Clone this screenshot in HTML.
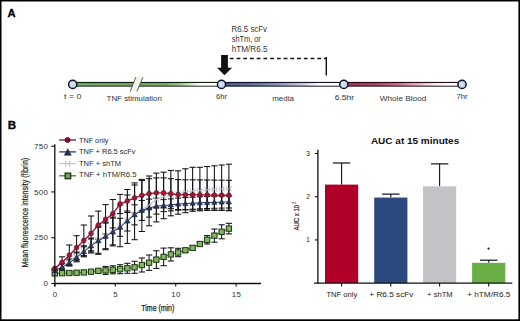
<!DOCTYPE html>
<html><head><meta charset="utf-8"><style>
html,body{margin:0;padding:0;background:#fff;}
body{width:520px;height:321px;overflow:hidden;position:relative;}
svg{position:absolute;left:0;top:0;}
text{font-family:"Liberation Sans", sans-serif;}
</style></head><body>
<svg width="520" height="321" viewBox="0 0 520 321">
<defs>
<linearGradient id="gG" x1="73" x2="221" gradientUnits="userSpaceOnUse">
 <stop offset="0" stop-color="#5a9648"/><stop offset="0.62" stop-color="#5e9a4a"/><stop offset="0.72" stop-color="#8cba78"/><stop offset="0.8" stop-color="#cfe3c4"/><stop offset="0.86" stop-color="#ffffff"/><stop offset="1" stop-color="#ffffff"/></linearGradient>
<linearGradient id="gB" x1="222" x2="344" gradientUnits="userSpaceOnUse">
 <stop offset="0" stop-color="#2c3870"/><stop offset="0.23" stop-color="#46558a"/><stop offset="0.475" stop-color="#8088a8"/><stop offset="0.68" stop-color="#c4c8d8"/><stop offset="0.8" stop-color="#ffffff"/><stop offset="1" stop-color="#ffffff"/></linearGradient>
<linearGradient id="gR" x1="344" x2="462" gradientUnits="userSpaceOnUse">
 <stop offset="0" stop-color="#8e1436"/><stop offset="0.25" stop-color="#a41c44"/><stop offset="0.45" stop-color="#c25474"/><stop offset="0.6" stop-color="#dc98ac"/><stop offset="0.78" stop-color="#f6e8ec"/><stop offset="0.88" stop-color="#ffffff"/><stop offset="1" stop-color="#ffffff"/></linearGradient>
<radialGradient id="gC" cx="0.45" cy="0.45" r="0.6">
 <stop offset="0" stop-color="#dbe7f6"/><stop offset="1" stop-color="#b4c9e6"/></radialGradient>
<linearGradient id="gH" x1="0" y1="0" x2="0" y2="1">
 <stop offset="0" stop-color="#fff" stop-opacity="0"/><stop offset="0.5" stop-color="#fff" stop-opacity="0.22"/><stop offset="1" stop-color="#fff" stop-opacity="0"/></linearGradient>
</defs>
<rect x="0" y="0" width="520" height="1.5" fill="#000"/>
<rect x="0" y="0" width="1.5" height="321" fill="#000"/>
<rect x="518.4" y="0" width="1.6" height="321" fill="#000"/>
<rect x="0" y="319.3" width="520" height="1.7" fill="#000"/>
<text x="7.6" y="17.1" font-size="11.2" font-weight="bold" fill="#000" stroke="#000" stroke-width="0.3">A</text>
<text x="7.8" y="129.1" font-size="11.6" font-weight="bold" fill="#000" stroke="#000" stroke-width="0.3">B</text>
<rect x="73" y="82.6" width="149" height="3.4" fill="url(#gG)"/>
<rect x="73" y="82.9" width="149" height="2.8" fill="url(#gH)"/>
<rect x="73" y="81.9" width="149" height="1.1" fill="#10240c"/>
<rect x="73" y="85.7" width="149" height="1.0" fill="#263020"/>
<rect x="222" y="82.6" width="122" height="3.4" fill="url(#gB)"/>
<rect x="222" y="82.9" width="122" height="2.8" fill="url(#gH)"/>
<rect x="222" y="81.9" width="122" height="1.1" fill="#10122a"/>
<rect x="222" y="85.7" width="122" height="1.0" fill="#181a2e"/>
<rect x="344" y="82.6" width="118" height="3.4" fill="url(#gR)"/>
<rect x="344" y="82.9" width="118" height="2.8" fill="url(#gH)"/>
<rect x="344" y="81.9" width="118" height="1.1" fill="#280a12"/>
<rect x="344" y="85.7" width="118" height="1.0" fill="#2a181c"/>
<polygon points="135.8,77.2 142.9,77.2 137,91.4 130.2,91.4" fill="#eef7e6"/>
<line x1="135.8" y1="77.2" x2="130.2" y2="91.4" stroke="#4a4a4a" stroke-width="0.9"/>
<line x1="142.9" y1="77.2" x2="137" y2="91.4" stroke="#4a4a4a" stroke-width="0.9"/>
<circle cx="72.7" cy="84.4" r="4.1" fill="url(#gC)" stroke="#111122" stroke-width="1.45"/>
<circle cx="221.5" cy="84.4" r="4.1" fill="url(#gC)" stroke="#111122" stroke-width="1.45"/>
<circle cx="343.8" cy="84.4" r="4.1" fill="url(#gC)" stroke="#111122" stroke-width="1.45"/>
<circle cx="462" cy="84.4" r="4.1" fill="url(#gC)" stroke="#111122" stroke-width="1.45"/>
<polygon points="221.1,55 227.9,55 227.9,67.8 232.1,67.8 224.5,75.3 217,67.8 221.1,67.8" fill="#111"/>
<line x1="229.8" y1="58.5" x2="326.5" y2="58.5" stroke="#111" stroke-width="1.3" stroke-dasharray="3.8 2.93"/>
<line x1="326.3" y1="57" x2="326.3" y2="75.5" stroke="#111" stroke-width="1.4"/>
<text x="231.6" y="31.6" font-size="8.2" font-weight="normal" fill="#333" textLength="35.4" lengthAdjust="spacingAndGlyphs" >R6.5 scFv</text>
<text x="231.8" y="41.6" font-size="8.2" font-weight="normal" fill="#333" textLength="29.0" lengthAdjust="spacingAndGlyphs" >shTm, or</text>
<text x="231.8" y="51.8" font-size="8.2" font-weight="normal" fill="#333" textLength="35.8" lengthAdjust="spacingAndGlyphs" >hTM/R6.5</text>
<text x="64.0" y="99.4" font-size="8.0" font-weight="normal" fill="#333" textLength="17.4" lengthAdjust="spacingAndGlyphs" >t = 0</text>
<text x="106.6" y="100.6" font-size="7.8" font-weight="normal" fill="#333" textLength="55.3" lengthAdjust="spacingAndGlyphs" >TNF stimulation</text>
<text x="216.1" y="99.0" font-size="8.0" font-weight="normal" fill="#333" textLength="11.0" lengthAdjust="spacingAndGlyphs" >6hr</text>
<text x="272.2" y="100.9" font-size="8.0" font-weight="normal" fill="#333" textLength="21.8" lengthAdjust="spacingAndGlyphs" >media</text>
<text x="334.7" y="99.5" font-size="8.0" font-weight="normal" fill="#333" textLength="19.5" lengthAdjust="spacingAndGlyphs" >6.5hr</text>
<text x="379.7" y="100.9" font-size="7.8" font-weight="normal" fill="#333" textLength="46.6" lengthAdjust="spacingAndGlyphs" >Whole Blood</text>
<text x="456.5" y="99.0" font-size="8.0" font-weight="normal" fill="#333" textLength="11.2" lengthAdjust="spacingAndGlyphs" >7hr</text>
<line x1="54.80" x2="54.80" y1="269.50" y2="269.50" stroke="#111" stroke-width="1.05"/>
<line x1="51.70" x2="57.90" y1="269.50" y2="269.50" stroke="#111" stroke-width="1.05"/>
<line x1="51.70" x2="57.90" y1="269.50" y2="269.50" stroke="#111" stroke-width="1.05"/>
<line x1="62.05" x2="62.05" y1="263.40" y2="269.40" stroke="#111" stroke-width="1.05"/>
<line x1="58.95" x2="65.15" y1="263.40" y2="263.40" stroke="#111" stroke-width="1.05"/>
<line x1="58.95" x2="65.15" y1="269.40" y2="269.40" stroke="#111" stroke-width="1.05"/>
<line x1="69.31" x2="69.31" y1="259.00" y2="265.00" stroke="#111" stroke-width="1.05"/>
<line x1="66.21" x2="72.41" y1="259.00" y2="259.00" stroke="#111" stroke-width="1.05"/>
<line x1="66.21" x2="72.41" y1="265.00" y2="265.00" stroke="#111" stroke-width="1.05"/>
<line x1="76.56" x2="76.56" y1="252.00" y2="260.80" stroke="#111" stroke-width="1.05"/>
<line x1="73.46" x2="79.66" y1="252.00" y2="252.00" stroke="#111" stroke-width="1.05"/>
<line x1="73.46" x2="79.66" y1="260.80" y2="260.80" stroke="#111" stroke-width="1.05"/>
<line x1="83.82" x2="83.82" y1="245.80" y2="255.80" stroke="#111" stroke-width="1.05"/>
<line x1="80.72" x2="86.92" y1="245.80" y2="245.80" stroke="#111" stroke-width="1.05"/>
<line x1="80.72" x2="86.92" y1="255.80" y2="255.80" stroke="#111" stroke-width="1.05"/>
<line x1="91.07" x2="91.07" y1="238.00" y2="252.00" stroke="#111" stroke-width="1.05"/>
<line x1="87.97" x2="94.17" y1="238.00" y2="238.00" stroke="#111" stroke-width="1.05"/>
<line x1="87.97" x2="94.17" y1="252.00" y2="252.00" stroke="#111" stroke-width="1.05"/>
<line x1="98.32" x2="98.32" y1="226.30" y2="253.30" stroke="#111" stroke-width="1.05"/>
<line x1="95.22" x2="101.42" y1="226.30" y2="226.30" stroke="#111" stroke-width="1.05"/>
<line x1="95.22" x2="101.42" y1="253.30" y2="253.30" stroke="#111" stroke-width="1.05"/>
<line x1="105.58" x2="105.58" y1="222.10" y2="248.70" stroke="#111" stroke-width="1.05"/>
<line x1="102.48" x2="108.68" y1="222.10" y2="222.10" stroke="#111" stroke-width="1.05"/>
<line x1="102.48" x2="108.68" y1="248.70" y2="248.70" stroke="#111" stroke-width="1.05"/>
<line x1="112.83" x2="112.83" y1="217.10" y2="244.90" stroke="#111" stroke-width="1.05"/>
<line x1="109.73" x2="115.93" y1="217.10" y2="217.10" stroke="#111" stroke-width="1.05"/>
<line x1="109.73" x2="115.93" y1="244.90" y2="244.90" stroke="#111" stroke-width="1.05"/>
<line x1="120.09" x2="120.09" y1="205.00" y2="246.70" stroke="#111" stroke-width="1.05"/>
<line x1="116.99" x2="123.19" y1="205.00" y2="205.00" stroke="#111" stroke-width="1.05"/>
<line x1="116.99" x2="123.19" y1="246.70" y2="246.70" stroke="#111" stroke-width="1.05"/>
<line x1="127.34" x2="127.34" y1="195.00" y2="243.40" stroke="#111" stroke-width="1.05"/>
<line x1="124.24" x2="130.44" y1="195.00" y2="195.00" stroke="#111" stroke-width="1.05"/>
<line x1="124.24" x2="130.44" y1="243.40" y2="243.40" stroke="#111" stroke-width="1.05"/>
<line x1="134.59" x2="134.59" y1="185.00" y2="239.70" stroke="#111" stroke-width="1.05"/>
<line x1="131.49" x2="137.69" y1="185.00" y2="185.00" stroke="#111" stroke-width="1.05"/>
<line x1="131.49" x2="137.69" y1="239.70" y2="239.70" stroke="#111" stroke-width="1.05"/>
<line x1="141.85" x2="141.85" y1="179.40" y2="231.50" stroke="#111" stroke-width="1.05"/>
<line x1="138.75" x2="144.95" y1="179.40" y2="179.40" stroke="#111" stroke-width="1.05"/>
<line x1="138.75" x2="144.95" y1="231.50" y2="231.50" stroke="#111" stroke-width="1.05"/>
<line x1="149.10" x2="149.10" y1="176.00" y2="225.80" stroke="#111" stroke-width="1.05"/>
<line x1="146.00" x2="152.20" y1="176.00" y2="176.00" stroke="#111" stroke-width="1.05"/>
<line x1="146.00" x2="152.20" y1="225.80" y2="225.80" stroke="#111" stroke-width="1.05"/>
<line x1="156.36" x2="156.36" y1="173.10" y2="221.90" stroke="#111" stroke-width="1.05"/>
<line x1="153.26" x2="159.46" y1="173.10" y2="173.10" stroke="#111" stroke-width="1.05"/>
<line x1="153.26" x2="159.46" y1="221.90" y2="221.90" stroke="#111" stroke-width="1.05"/>
<line x1="163.61" x2="163.61" y1="172.20" y2="218.70" stroke="#111" stroke-width="1.05"/>
<line x1="160.51" x2="166.71" y1="172.20" y2="172.20" stroke="#111" stroke-width="1.05"/>
<line x1="160.51" x2="166.71" y1="218.70" y2="218.70" stroke="#111" stroke-width="1.05"/>
<line x1="170.86" x2="170.86" y1="170.40" y2="215.80" stroke="#111" stroke-width="1.05"/>
<line x1="167.76" x2="173.96" y1="170.40" y2="170.40" stroke="#111" stroke-width="1.05"/>
<line x1="167.76" x2="173.96" y1="215.80" y2="215.80" stroke="#111" stroke-width="1.05"/>
<line x1="178.12" x2="178.12" y1="170.80" y2="214.20" stroke="#111" stroke-width="1.05"/>
<line x1="175.02" x2="181.22" y1="170.80" y2="170.80" stroke="#111" stroke-width="1.05"/>
<line x1="175.02" x2="181.22" y1="214.20" y2="214.20" stroke="#111" stroke-width="1.05"/>
<line x1="185.37" x2="185.37" y1="168.80" y2="212.70" stroke="#111" stroke-width="1.05"/>
<line x1="182.27" x2="188.47" y1="168.80" y2="168.80" stroke="#111" stroke-width="1.05"/>
<line x1="182.27" x2="188.47" y1="212.70" y2="212.70" stroke="#111" stroke-width="1.05"/>
<line x1="192.63" x2="192.63" y1="167.30" y2="211.30" stroke="#111" stroke-width="1.05"/>
<line x1="189.53" x2="195.73" y1="167.30" y2="167.30" stroke="#111" stroke-width="1.05"/>
<line x1="189.53" x2="195.73" y1="211.30" y2="211.30" stroke="#111" stroke-width="1.05"/>
<line x1="199.88" x2="199.88" y1="167.30" y2="210.80" stroke="#111" stroke-width="1.05"/>
<line x1="196.78" x2="202.98" y1="167.30" y2="167.30" stroke="#111" stroke-width="1.05"/>
<line x1="196.78" x2="202.98" y1="210.80" y2="210.80" stroke="#111" stroke-width="1.05"/>
<line x1="207.13" x2="207.13" y1="166.50" y2="210.40" stroke="#111" stroke-width="1.05"/>
<line x1="204.03" x2="210.23" y1="166.50" y2="166.50" stroke="#111" stroke-width="1.05"/>
<line x1="204.03" x2="210.23" y1="210.40" y2="210.40" stroke="#111" stroke-width="1.05"/>
<line x1="214.39" x2="214.39" y1="165.80" y2="210.40" stroke="#111" stroke-width="1.05"/>
<line x1="211.29" x2="217.49" y1="165.80" y2="165.80" stroke="#111" stroke-width="1.05"/>
<line x1="211.29" x2="217.49" y1="210.40" y2="210.40" stroke="#111" stroke-width="1.05"/>
<line x1="221.64" x2="221.64" y1="165.00" y2="210.40" stroke="#111" stroke-width="1.05"/>
<line x1="218.54" x2="224.74" y1="165.00" y2="165.00" stroke="#111" stroke-width="1.05"/>
<line x1="218.54" x2="224.74" y1="210.40" y2="210.40" stroke="#111" stroke-width="1.05"/>
<line x1="228.90" x2="228.90" y1="164.20" y2="210.80" stroke="#111" stroke-width="1.05"/>
<line x1="225.80" x2="232.00" y1="164.20" y2="164.20" stroke="#111" stroke-width="1.05"/>
<line x1="225.80" x2="232.00" y1="210.80" y2="210.80" stroke="#111" stroke-width="1.05"/>
<line x1="54.80" x2="54.80" y1="268.40" y2="268.40" stroke="#111" stroke-width="1.05"/>
<line x1="51.70" x2="57.90" y1="268.40" y2="268.40" stroke="#111" stroke-width="1.05"/>
<line x1="51.70" x2="57.90" y1="268.40" y2="268.40" stroke="#111" stroke-width="1.05"/>
<line x1="62.05" x2="62.05" y1="256.80" y2="268.00" stroke="#111" stroke-width="1.05"/>
<line x1="58.95" x2="65.15" y1="256.80" y2="256.80" stroke="#111" stroke-width="1.05"/>
<line x1="58.95" x2="65.15" y1="268.00" y2="268.00" stroke="#111" stroke-width="1.05"/>
<line x1="69.31" x2="69.31" y1="245.00" y2="265.40" stroke="#111" stroke-width="1.05"/>
<line x1="66.21" x2="72.41" y1="245.00" y2="245.00" stroke="#111" stroke-width="1.05"/>
<line x1="66.21" x2="72.41" y1="265.40" y2="265.40" stroke="#111" stroke-width="1.05"/>
<line x1="76.56" x2="76.56" y1="235.70" y2="259.70" stroke="#111" stroke-width="1.05"/>
<line x1="73.46" x2="79.66" y1="235.70" y2="235.70" stroke="#111" stroke-width="1.05"/>
<line x1="73.46" x2="79.66" y1="259.70" y2="259.70" stroke="#111" stroke-width="1.05"/>
<line x1="83.82" x2="83.82" y1="225.00" y2="255.80" stroke="#111" stroke-width="1.05"/>
<line x1="80.72" x2="86.92" y1="225.00" y2="225.00" stroke="#111" stroke-width="1.05"/>
<line x1="80.72" x2="86.92" y1="255.80" y2="255.80" stroke="#111" stroke-width="1.05"/>
<line x1="91.07" x2="91.07" y1="216.00" y2="250.80" stroke="#111" stroke-width="1.05"/>
<line x1="87.97" x2="94.17" y1="216.00" y2="216.00" stroke="#111" stroke-width="1.05"/>
<line x1="87.97" x2="94.17" y1="250.80" y2="250.80" stroke="#111" stroke-width="1.05"/>
<line x1="98.32" x2="98.32" y1="211.10" y2="239.10" stroke="#111" stroke-width="1.05"/>
<line x1="95.22" x2="101.42" y1="211.10" y2="211.10" stroke="#111" stroke-width="1.05"/>
<line x1="95.22" x2="101.42" y1="239.10" y2="239.10" stroke="#111" stroke-width="1.05"/>
<line x1="105.58" x2="105.58" y1="204.60" y2="234.00" stroke="#111" stroke-width="1.05"/>
<line x1="102.48" x2="108.68" y1="204.60" y2="204.60" stroke="#111" stroke-width="1.05"/>
<line x1="102.48" x2="108.68" y1="234.00" y2="234.00" stroke="#111" stroke-width="1.05"/>
<line x1="112.83" x2="112.83" y1="199.50" y2="227.90" stroke="#111" stroke-width="1.05"/>
<line x1="109.73" x2="115.93" y1="199.50" y2="199.50" stroke="#111" stroke-width="1.05"/>
<line x1="109.73" x2="115.93" y1="227.90" y2="227.90" stroke="#111" stroke-width="1.05"/>
<line x1="120.09" x2="120.09" y1="194.40" y2="213.60" stroke="#111" stroke-width="1.05"/>
<line x1="116.99" x2="123.19" y1="194.40" y2="194.40" stroke="#111" stroke-width="1.05"/>
<line x1="116.99" x2="123.19" y1="213.60" y2="213.60" stroke="#111" stroke-width="1.05"/>
<line x1="127.34" x2="127.34" y1="189.50" y2="212.50" stroke="#111" stroke-width="1.05"/>
<line x1="124.24" x2="130.44" y1="189.50" y2="189.50" stroke="#111" stroke-width="1.05"/>
<line x1="124.24" x2="130.44" y1="212.50" y2="212.50" stroke="#111" stroke-width="1.05"/>
<line x1="134.59" x2="134.59" y1="182.90" y2="212.90" stroke="#111" stroke-width="1.05"/>
<line x1="131.49" x2="137.69" y1="182.90" y2="182.90" stroke="#111" stroke-width="1.05"/>
<line x1="131.49" x2="137.69" y1="212.90" y2="212.90" stroke="#111" stroke-width="1.05"/>
<line x1="141.85" x2="141.85" y1="180.40" y2="210.40" stroke="#111" stroke-width="1.05"/>
<line x1="138.75" x2="144.95" y1="180.40" y2="180.40" stroke="#111" stroke-width="1.05"/>
<line x1="138.75" x2="144.95" y1="210.40" y2="210.40" stroke="#111" stroke-width="1.05"/>
<line x1="149.10" x2="149.10" y1="178.70" y2="208.70" stroke="#111" stroke-width="1.05"/>
<line x1="146.00" x2="152.20" y1="178.70" y2="178.70" stroke="#111" stroke-width="1.05"/>
<line x1="146.00" x2="152.20" y1="208.70" y2="208.70" stroke="#111" stroke-width="1.05"/>
<line x1="156.36" x2="156.36" y1="177.90" y2="207.90" stroke="#111" stroke-width="1.05"/>
<line x1="153.26" x2="159.46" y1="177.90" y2="177.90" stroke="#111" stroke-width="1.05"/>
<line x1="153.26" x2="159.46" y1="207.90" y2="207.90" stroke="#111" stroke-width="1.05"/>
<line x1="163.61" x2="163.61" y1="177.90" y2="207.90" stroke="#111" stroke-width="1.05"/>
<line x1="160.51" x2="166.71" y1="177.90" y2="177.90" stroke="#111" stroke-width="1.05"/>
<line x1="160.51" x2="166.71" y1="207.90" y2="207.90" stroke="#111" stroke-width="1.05"/>
<line x1="170.86" x2="170.86" y1="178.70" y2="208.70" stroke="#111" stroke-width="1.05"/>
<line x1="167.76" x2="173.96" y1="178.70" y2="178.70" stroke="#111" stroke-width="1.05"/>
<line x1="167.76" x2="173.96" y1="208.70" y2="208.70" stroke="#111" stroke-width="1.05"/>
<line x1="178.12" x2="178.12" y1="179.60" y2="209.60" stroke="#111" stroke-width="1.05"/>
<line x1="175.02" x2="181.22" y1="179.60" y2="179.60" stroke="#111" stroke-width="1.05"/>
<line x1="175.02" x2="181.22" y1="209.60" y2="209.60" stroke="#111" stroke-width="1.05"/>
<line x1="185.37" x2="185.37" y1="179.80" y2="209.80" stroke="#111" stroke-width="1.05"/>
<line x1="182.27" x2="188.47" y1="179.80" y2="179.80" stroke="#111" stroke-width="1.05"/>
<line x1="182.27" x2="188.47" y1="209.80" y2="209.80" stroke="#111" stroke-width="1.05"/>
<line x1="192.63" x2="192.63" y1="179.80" y2="209.80" stroke="#111" stroke-width="1.05"/>
<line x1="189.53" x2="195.73" y1="179.80" y2="179.80" stroke="#111" stroke-width="1.05"/>
<line x1="189.53" x2="195.73" y1="209.80" y2="209.80" stroke="#111" stroke-width="1.05"/>
<line x1="199.88" x2="199.88" y1="179.90" y2="209.90" stroke="#111" stroke-width="1.05"/>
<line x1="196.78" x2="202.98" y1="179.90" y2="179.90" stroke="#111" stroke-width="1.05"/>
<line x1="196.78" x2="202.98" y1="209.90" y2="209.90" stroke="#111" stroke-width="1.05"/>
<line x1="207.13" x2="207.13" y1="180.00" y2="210.00" stroke="#111" stroke-width="1.05"/>
<line x1="204.03" x2="210.23" y1="180.00" y2="180.00" stroke="#111" stroke-width="1.05"/>
<line x1="204.03" x2="210.23" y1="210.00" y2="210.00" stroke="#111" stroke-width="1.05"/>
<line x1="214.39" x2="214.39" y1="180.10" y2="210.10" stroke="#111" stroke-width="1.05"/>
<line x1="211.29" x2="217.49" y1="180.10" y2="180.10" stroke="#111" stroke-width="1.05"/>
<line x1="211.29" x2="217.49" y1="210.10" y2="210.10" stroke="#111" stroke-width="1.05"/>
<line x1="221.64" x2="221.64" y1="180.20" y2="210.20" stroke="#111" stroke-width="1.05"/>
<line x1="218.54" x2="224.74" y1="180.20" y2="180.20" stroke="#111" stroke-width="1.05"/>
<line x1="218.54" x2="224.74" y1="210.20" y2="210.20" stroke="#111" stroke-width="1.05"/>
<line x1="228.90" x2="228.90" y1="180.30" y2="210.30" stroke="#111" stroke-width="1.05"/>
<line x1="225.80" x2="232.00" y1="180.30" y2="180.30" stroke="#111" stroke-width="1.05"/>
<line x1="225.80" x2="232.00" y1="210.30" y2="210.30" stroke="#111" stroke-width="1.05"/>
<line x1="54.80" x2="54.80" y1="270.50" y2="270.50" stroke="#111" stroke-width="1.05"/>
<line x1="51.70" x2="57.90" y1="270.50" y2="270.50" stroke="#111" stroke-width="1.05"/>
<line x1="51.70" x2="57.90" y1="270.50" y2="270.50" stroke="#111" stroke-width="1.05"/>
<line x1="62.05" x2="62.05" y1="264.40" y2="270.40" stroke="#111" stroke-width="1.05"/>
<line x1="58.95" x2="65.15" y1="264.40" y2="264.40" stroke="#111" stroke-width="1.05"/>
<line x1="58.95" x2="65.15" y1="270.40" y2="270.40" stroke="#111" stroke-width="1.05"/>
<line x1="69.31" x2="69.31" y1="260.00" y2="266.00" stroke="#111" stroke-width="1.05"/>
<line x1="66.21" x2="72.41" y1="260.00" y2="260.00" stroke="#111" stroke-width="1.05"/>
<line x1="66.21" x2="72.41" y1="266.00" y2="266.00" stroke="#111" stroke-width="1.05"/>
<line x1="76.56" x2="76.56" y1="253.00" y2="261.80" stroke="#111" stroke-width="1.05"/>
<line x1="73.46" x2="79.66" y1="253.00" y2="253.00" stroke="#111" stroke-width="1.05"/>
<line x1="73.46" x2="79.66" y1="261.80" y2="261.80" stroke="#111" stroke-width="1.05"/>
<line x1="83.82" x2="83.82" y1="246.80" y2="256.80" stroke="#111" stroke-width="1.05"/>
<line x1="80.72" x2="86.92" y1="246.80" y2="246.80" stroke="#111" stroke-width="1.05"/>
<line x1="80.72" x2="86.92" y1="256.80" y2="256.80" stroke="#111" stroke-width="1.05"/>
<line x1="91.07" x2="91.07" y1="239.00" y2="253.00" stroke="#111" stroke-width="1.05"/>
<line x1="87.97" x2="94.17" y1="239.00" y2="239.00" stroke="#111" stroke-width="1.05"/>
<line x1="87.97" x2="94.17" y1="253.00" y2="253.00" stroke="#111" stroke-width="1.05"/>
<line x1="98.32" x2="98.32" y1="227.30" y2="254.30" stroke="#111" stroke-width="1.05"/>
<line x1="95.22" x2="101.42" y1="227.30" y2="227.30" stroke="#111" stroke-width="1.05"/>
<line x1="95.22" x2="101.42" y1="254.30" y2="254.30" stroke="#111" stroke-width="1.05"/>
<line x1="105.58" x2="105.58" y1="223.10" y2="249.70" stroke="#111" stroke-width="1.05"/>
<line x1="102.48" x2="108.68" y1="223.10" y2="223.10" stroke="#111" stroke-width="1.05"/>
<line x1="102.48" x2="108.68" y1="249.70" y2="249.70" stroke="#111" stroke-width="1.05"/>
<line x1="112.83" x2="112.83" y1="218.10" y2="245.90" stroke="#111" stroke-width="1.05"/>
<line x1="109.73" x2="115.93" y1="218.10" y2="218.10" stroke="#111" stroke-width="1.05"/>
<line x1="109.73" x2="115.93" y1="245.90" y2="245.90" stroke="#111" stroke-width="1.05"/>
<line x1="120.09" x2="120.09" y1="218.30" y2="236.30" stroke="#111" stroke-width="1.05"/>
<line x1="116.99" x2="123.19" y1="218.30" y2="218.30" stroke="#111" stroke-width="1.05"/>
<line x1="116.99" x2="123.19" y1="236.30" y2="236.30" stroke="#111" stroke-width="1.05"/>
<line x1="127.34" x2="127.34" y1="211.00" y2="231.00" stroke="#111" stroke-width="1.05"/>
<line x1="124.24" x2="130.44" y1="211.00" y2="211.00" stroke="#111" stroke-width="1.05"/>
<line x1="124.24" x2="130.44" y1="231.00" y2="231.00" stroke="#111" stroke-width="1.05"/>
<line x1="134.59" x2="134.59" y1="204.80" y2="224.80" stroke="#111" stroke-width="1.05"/>
<line x1="131.49" x2="137.69" y1="204.80" y2="204.80" stroke="#111" stroke-width="1.05"/>
<line x1="131.49" x2="137.69" y1="224.80" y2="224.80" stroke="#111" stroke-width="1.05"/>
<line x1="141.85" x2="141.85" y1="200.40" y2="220.40" stroke="#111" stroke-width="1.05"/>
<line x1="138.75" x2="144.95" y1="200.40" y2="200.40" stroke="#111" stroke-width="1.05"/>
<line x1="138.75" x2="144.95" y1="220.40" y2="220.40" stroke="#111" stroke-width="1.05"/>
<line x1="149.10" x2="149.10" y1="199.10" y2="217.10" stroke="#111" stroke-width="1.05"/>
<line x1="146.00" x2="152.20" y1="199.10" y2="199.10" stroke="#111" stroke-width="1.05"/>
<line x1="146.00" x2="152.20" y1="217.10" y2="217.10" stroke="#111" stroke-width="1.05"/>
<line x1="156.36" x2="156.36" y1="198.10" y2="214.10" stroke="#111" stroke-width="1.05"/>
<line x1="153.26" x2="159.46" y1="198.10" y2="198.10" stroke="#111" stroke-width="1.05"/>
<line x1="153.26" x2="159.46" y1="214.10" y2="214.10" stroke="#111" stroke-width="1.05"/>
<line x1="163.61" x2="163.61" y1="199.60" y2="211.60" stroke="#111" stroke-width="1.05"/>
<line x1="160.51" x2="166.71" y1="199.60" y2="199.60" stroke="#111" stroke-width="1.05"/>
<line x1="160.51" x2="166.71" y1="211.60" y2="211.60" stroke="#111" stroke-width="1.05"/>
<line x1="170.86" x2="170.86" y1="198.90" y2="210.90" stroke="#111" stroke-width="1.05"/>
<line x1="167.76" x2="173.96" y1="198.90" y2="198.90" stroke="#111" stroke-width="1.05"/>
<line x1="167.76" x2="173.96" y1="210.90" y2="210.90" stroke="#111" stroke-width="1.05"/>
<line x1="178.12" x2="178.12" y1="198.10" y2="210.10" stroke="#111" stroke-width="1.05"/>
<line x1="175.02" x2="181.22" y1="198.10" y2="198.10" stroke="#111" stroke-width="1.05"/>
<line x1="175.02" x2="181.22" y1="210.10" y2="210.10" stroke="#111" stroke-width="1.05"/>
<line x1="185.37" x2="185.37" y1="197.60" y2="209.60" stroke="#111" stroke-width="1.05"/>
<line x1="182.27" x2="188.47" y1="197.60" y2="197.60" stroke="#111" stroke-width="1.05"/>
<line x1="182.27" x2="188.47" y1="209.60" y2="209.60" stroke="#111" stroke-width="1.05"/>
<line x1="192.63" x2="192.63" y1="197.20" y2="209.20" stroke="#111" stroke-width="1.05"/>
<line x1="189.53" x2="195.73" y1="197.20" y2="197.20" stroke="#111" stroke-width="1.05"/>
<line x1="189.53" x2="195.73" y1="209.20" y2="209.20" stroke="#111" stroke-width="1.05"/>
<line x1="199.88" x2="199.88" y1="196.80" y2="208.80" stroke="#111" stroke-width="1.05"/>
<line x1="196.78" x2="202.98" y1="196.80" y2="196.80" stroke="#111" stroke-width="1.05"/>
<line x1="196.78" x2="202.98" y1="208.80" y2="208.80" stroke="#111" stroke-width="1.05"/>
<line x1="207.13" x2="207.13" y1="196.50" y2="208.50" stroke="#111" stroke-width="1.05"/>
<line x1="204.03" x2="210.23" y1="196.50" y2="196.50" stroke="#111" stroke-width="1.05"/>
<line x1="204.03" x2="210.23" y1="208.50" y2="208.50" stroke="#111" stroke-width="1.05"/>
<line x1="214.39" x2="214.39" y1="196.30" y2="208.30" stroke="#111" stroke-width="1.05"/>
<line x1="211.29" x2="217.49" y1="196.30" y2="196.30" stroke="#111" stroke-width="1.05"/>
<line x1="211.29" x2="217.49" y1="208.30" y2="208.30" stroke="#111" stroke-width="1.05"/>
<line x1="221.64" x2="221.64" y1="196.10" y2="208.10" stroke="#111" stroke-width="1.05"/>
<line x1="218.54" x2="224.74" y1="196.10" y2="196.10" stroke="#111" stroke-width="1.05"/>
<line x1="218.54" x2="224.74" y1="208.10" y2="208.10" stroke="#111" stroke-width="1.05"/>
<line x1="228.90" x2="228.90" y1="196.00" y2="208.00" stroke="#111" stroke-width="1.05"/>
<line x1="225.80" x2="232.00" y1="196.00" y2="196.00" stroke="#111" stroke-width="1.05"/>
<line x1="225.80" x2="232.00" y1="208.00" y2="208.00" stroke="#111" stroke-width="1.05"/>
<line x1="54.80" x2="54.80" y1="271.90" y2="274.90" stroke="#111" stroke-width="1.05"/>
<line x1="51.70" x2="57.90" y1="271.90" y2="271.90" stroke="#111" stroke-width="1.05"/>
<line x1="51.70" x2="57.90" y1="274.90" y2="274.90" stroke="#111" stroke-width="1.05"/>
<line x1="62.05" x2="62.05" y1="271.70" y2="274.70" stroke="#111" stroke-width="1.05"/>
<line x1="58.95" x2="65.15" y1="271.70" y2="271.70" stroke="#111" stroke-width="1.05"/>
<line x1="58.95" x2="65.15" y1="274.70" y2="274.70" stroke="#111" stroke-width="1.05"/>
<line x1="69.31" x2="69.31" y1="271.50" y2="274.50" stroke="#111" stroke-width="1.05"/>
<line x1="66.21" x2="72.41" y1="271.50" y2="271.50" stroke="#111" stroke-width="1.05"/>
<line x1="66.21" x2="72.41" y1="274.50" y2="274.50" stroke="#111" stroke-width="1.05"/>
<line x1="76.56" x2="76.56" y1="271.20" y2="274.20" stroke="#111" stroke-width="1.05"/>
<line x1="73.46" x2="79.66" y1="271.20" y2="271.20" stroke="#111" stroke-width="1.05"/>
<line x1="73.46" x2="79.66" y1="274.20" y2="274.20" stroke="#111" stroke-width="1.05"/>
<line x1="83.82" x2="83.82" y1="270.90" y2="273.90" stroke="#111" stroke-width="1.05"/>
<line x1="80.72" x2="86.92" y1="270.90" y2="270.90" stroke="#111" stroke-width="1.05"/>
<line x1="80.72" x2="86.92" y1="273.90" y2="273.90" stroke="#111" stroke-width="1.05"/>
<line x1="91.07" x2="91.07" y1="270.20" y2="273.20" stroke="#111" stroke-width="1.05"/>
<line x1="87.97" x2="94.17" y1="270.20" y2="270.20" stroke="#111" stroke-width="1.05"/>
<line x1="87.97" x2="94.17" y1="273.20" y2="273.20" stroke="#111" stroke-width="1.05"/>
<line x1="98.32" x2="98.32" y1="269.30" y2="272.30" stroke="#111" stroke-width="1.05"/>
<line x1="95.22" x2="101.42" y1="269.30" y2="269.30" stroke="#111" stroke-width="1.05"/>
<line x1="95.22" x2="101.42" y1="272.30" y2="272.30" stroke="#111" stroke-width="1.05"/>
<line x1="105.58" x2="105.58" y1="266.40" y2="274.40" stroke="#111" stroke-width="1.05"/>
<line x1="102.48" x2="108.68" y1="266.40" y2="266.40" stroke="#111" stroke-width="1.05"/>
<line x1="102.48" x2="108.68" y1="274.40" y2="274.40" stroke="#111" stroke-width="1.05"/>
<line x1="112.83" x2="112.83" y1="265.80" y2="273.80" stroke="#111" stroke-width="1.05"/>
<line x1="109.73" x2="115.93" y1="265.80" y2="265.80" stroke="#111" stroke-width="1.05"/>
<line x1="109.73" x2="115.93" y1="273.80" y2="273.80" stroke="#111" stroke-width="1.05"/>
<line x1="120.09" x2="120.09" y1="264.70" y2="273.70" stroke="#111" stroke-width="1.05"/>
<line x1="116.99" x2="123.19" y1="264.70" y2="264.70" stroke="#111" stroke-width="1.05"/>
<line x1="116.99" x2="123.19" y1="273.70" y2="273.70" stroke="#111" stroke-width="1.05"/>
<line x1="127.34" x2="127.34" y1="263.30" y2="273.30" stroke="#111" stroke-width="1.05"/>
<line x1="124.24" x2="130.44" y1="263.30" y2="263.30" stroke="#111" stroke-width="1.05"/>
<line x1="124.24" x2="130.44" y1="273.30" y2="273.30" stroke="#111" stroke-width="1.05"/>
<line x1="134.59" x2="134.59" y1="261.30" y2="273.30" stroke="#111" stroke-width="1.05"/>
<line x1="131.49" x2="137.69" y1="261.30" y2="261.30" stroke="#111" stroke-width="1.05"/>
<line x1="131.49" x2="137.69" y1="273.30" y2="273.30" stroke="#111" stroke-width="1.05"/>
<line x1="141.85" x2="141.85" y1="258.00" y2="272.00" stroke="#111" stroke-width="1.05"/>
<line x1="138.75" x2="144.95" y1="258.00" y2="258.00" stroke="#111" stroke-width="1.05"/>
<line x1="138.75" x2="144.95" y1="272.00" y2="272.00" stroke="#111" stroke-width="1.05"/>
<line x1="149.10" x2="149.10" y1="255.00" y2="270.40" stroke="#111" stroke-width="1.05"/>
<line x1="146.00" x2="152.20" y1="255.00" y2="255.00" stroke="#111" stroke-width="1.05"/>
<line x1="146.00" x2="152.20" y1="270.40" y2="270.40" stroke="#111" stroke-width="1.05"/>
<line x1="156.36" x2="156.36" y1="250.80" y2="268.40" stroke="#111" stroke-width="1.05"/>
<line x1="153.26" x2="159.46" y1="250.80" y2="250.80" stroke="#111" stroke-width="1.05"/>
<line x1="153.26" x2="159.46" y1="268.40" y2="268.40" stroke="#111" stroke-width="1.05"/>
<line x1="163.61" x2="163.61" y1="248.10" y2="265.70" stroke="#111" stroke-width="1.05"/>
<line x1="160.51" x2="166.71" y1="248.10" y2="248.10" stroke="#111" stroke-width="1.05"/>
<line x1="160.51" x2="166.71" y1="265.70" y2="265.70" stroke="#111" stroke-width="1.05"/>
<line x1="170.86" x2="170.86" y1="247.80" y2="261.00" stroke="#111" stroke-width="1.05"/>
<line x1="167.76" x2="173.96" y1="247.80" y2="247.80" stroke="#111" stroke-width="1.05"/>
<line x1="167.76" x2="173.96" y1="261.00" y2="261.00" stroke="#111" stroke-width="1.05"/>
<line x1="178.12" x2="178.12" y1="248.30" y2="256.70" stroke="#111" stroke-width="1.05"/>
<line x1="175.02" x2="181.22" y1="248.30" y2="248.30" stroke="#111" stroke-width="1.05"/>
<line x1="175.02" x2="181.22" y1="256.70" y2="256.70" stroke="#111" stroke-width="1.05"/>
<line x1="185.37" x2="185.37" y1="248.30" y2="252.30" stroke="#111" stroke-width="1.05"/>
<line x1="182.27" x2="188.47" y1="248.30" y2="248.30" stroke="#111" stroke-width="1.05"/>
<line x1="182.27" x2="188.47" y1="252.30" y2="252.30" stroke="#111" stroke-width="1.05"/>
<line x1="192.63" x2="192.63" y1="245.90" y2="249.90" stroke="#111" stroke-width="1.05"/>
<line x1="189.53" x2="195.73" y1="245.90" y2="245.90" stroke="#111" stroke-width="1.05"/>
<line x1="189.53" x2="195.73" y1="249.90" y2="249.90" stroke="#111" stroke-width="1.05"/>
<line x1="199.88" x2="199.88" y1="242.00" y2="246.00" stroke="#111" stroke-width="1.05"/>
<line x1="196.78" x2="202.98" y1="242.00" y2="242.00" stroke="#111" stroke-width="1.05"/>
<line x1="196.78" x2="202.98" y1="246.00" y2="246.00" stroke="#111" stroke-width="1.05"/>
<line x1="207.13" x2="207.13" y1="235.60" y2="244.00" stroke="#111" stroke-width="1.05"/>
<line x1="204.03" x2="210.23" y1="235.60" y2="235.60" stroke="#111" stroke-width="1.05"/>
<line x1="204.03" x2="210.23" y1="244.00" y2="244.00" stroke="#111" stroke-width="1.05"/>
<line x1="214.39" x2="214.39" y1="229.00" y2="242.20" stroke="#111" stroke-width="1.05"/>
<line x1="211.29" x2="217.49" y1="229.00" y2="229.00" stroke="#111" stroke-width="1.05"/>
<line x1="211.29" x2="217.49" y1="242.20" y2="242.20" stroke="#111" stroke-width="1.05"/>
<line x1="221.64" x2="221.64" y1="224.80" y2="238.80" stroke="#111" stroke-width="1.05"/>
<line x1="218.54" x2="224.74" y1="224.80" y2="224.80" stroke="#111" stroke-width="1.05"/>
<line x1="218.54" x2="224.74" y1="238.80" y2="238.80" stroke="#111" stroke-width="1.05"/>
<line x1="228.90" x2="228.90" y1="223.30" y2="233.90" stroke="#111" stroke-width="1.05"/>
<line x1="225.80" x2="232.00" y1="223.30" y2="223.30" stroke="#111" stroke-width="1.05"/>
<line x1="225.80" x2="232.00" y1="233.90" y2="233.90" stroke="#111" stroke-width="1.05"/>
<polyline points="54.80,269.50 62.05,266.40 69.31,262.00 76.56,256.40 83.82,250.80 91.07,245.00 98.32,239.80 105.58,235.40 112.83,231.00 120.09,226.30 127.34,220.00 134.59,214.00 141.85,210.00 149.10,205.00 156.36,199.50 163.61,196.80 170.86,195.00 178.12,193.50 185.37,192.00 192.63,191.00 199.88,190.30 207.13,189.70 214.39,189.30 221.64,189.00 228.90,188.80" fill="none" stroke="#c6cdd8" stroke-width="1.1"/>
<polyline points="54.80,273.40 62.05,273.20 69.31,273.00 76.56,272.70 83.82,272.40 91.07,271.70 98.32,270.80 105.58,270.40 112.83,269.80 120.09,269.20 127.34,268.30 134.59,267.30 141.85,265.00 149.10,262.70 156.36,259.60 163.61,256.90 170.86,254.40 178.12,252.50 185.37,250.30 192.63,247.90 199.88,244.00 207.13,239.80 214.39,235.60 221.64,231.80 228.90,228.60" fill="none" stroke="#4e7a34" stroke-width="1.0"/>
<rect x="52.15" y="270.75" width="5.3" height="5.3" fill="#80b862" stroke="#1e3612" stroke-width="1"/>
<rect x="59.40" y="270.55" width="5.3" height="5.3" fill="#80b862" stroke="#1e3612" stroke-width="1"/>
<rect x="66.66" y="270.35" width="5.3" height="5.3" fill="#80b862" stroke="#1e3612" stroke-width="1"/>
<rect x="73.91" y="270.05" width="5.3" height="5.3" fill="#80b862" stroke="#1e3612" stroke-width="1"/>
<rect x="81.17" y="269.75" width="5.3" height="5.3" fill="#80b862" stroke="#1e3612" stroke-width="1"/>
<rect x="88.42" y="269.05" width="5.3" height="5.3" fill="#80b862" stroke="#1e3612" stroke-width="1"/>
<rect x="95.67" y="268.15" width="5.3" height="5.3" fill="#80b862" stroke="#1e3612" stroke-width="1"/>
<rect x="102.93" y="267.75" width="5.3" height="5.3" fill="#80b862" stroke="#1e3612" stroke-width="1"/>
<rect x="110.18" y="267.15" width="5.3" height="5.3" fill="#80b862" stroke="#1e3612" stroke-width="1"/>
<rect x="117.44" y="266.55" width="5.3" height="5.3" fill="#80b862" stroke="#1e3612" stroke-width="1"/>
<rect x="124.69" y="265.65" width="5.3" height="5.3" fill="#80b862" stroke="#1e3612" stroke-width="1"/>
<rect x="131.94" y="264.65" width="5.3" height="5.3" fill="#80b862" stroke="#1e3612" stroke-width="1"/>
<rect x="139.20" y="262.35" width="5.3" height="5.3" fill="#80b862" stroke="#1e3612" stroke-width="1"/>
<rect x="146.45" y="260.05" width="5.3" height="5.3" fill="#80b862" stroke="#1e3612" stroke-width="1"/>
<rect x="153.71" y="256.95" width="5.3" height="5.3" fill="#80b862" stroke="#1e3612" stroke-width="1"/>
<rect x="160.96" y="254.25" width="5.3" height="5.3" fill="#80b862" stroke="#1e3612" stroke-width="1"/>
<rect x="168.21" y="251.75" width="5.3" height="5.3" fill="#80b862" stroke="#1e3612" stroke-width="1"/>
<rect x="175.47" y="249.85" width="5.3" height="5.3" fill="#80b862" stroke="#1e3612" stroke-width="1"/>
<rect x="182.72" y="247.65" width="5.3" height="5.3" fill="#80b862" stroke="#1e3612" stroke-width="1"/>
<rect x="189.98" y="245.25" width="5.3" height="5.3" fill="#80b862" stroke="#1e3612" stroke-width="1"/>
<rect x="197.23" y="241.35" width="5.3" height="5.3" fill="#80b862" stroke="#1e3612" stroke-width="1"/>
<rect x="204.48" y="237.15" width="5.3" height="5.3" fill="#80b862" stroke="#1e3612" stroke-width="1"/>
<rect x="211.74" y="232.95" width="5.3" height="5.3" fill="#80b862" stroke="#1e3612" stroke-width="1"/>
<rect x="218.99" y="229.15" width="5.3" height="5.3" fill="#80b862" stroke="#1e3612" stroke-width="1"/>
<rect x="226.25" y="225.95" width="5.3" height="5.3" fill="#80b862" stroke="#1e3612" stroke-width="1"/>
<path d="M52.30,266.90Q54.50,269.50 52.30,272.10M57.30,266.90Q55.10,269.50 57.30,272.10" fill="none" stroke="#c0c2c8" stroke-width="1"/>
<path d="M59.55,263.80Q61.75,266.40 59.55,269.00M64.55,263.80Q62.35,266.40 64.55,269.00" fill="none" stroke="#c0c2c8" stroke-width="1"/>
<path d="M66.81,259.40Q69.01,262.00 66.81,264.60M71.81,259.40Q69.61,262.00 71.81,264.60" fill="none" stroke="#c0c2c8" stroke-width="1"/>
<path d="M74.06,253.80Q76.26,256.40 74.06,259.00M79.06,253.80Q76.86,256.40 79.06,259.00" fill="none" stroke="#c0c2c8" stroke-width="1"/>
<path d="M81.32,248.20Q83.52,250.80 81.32,253.40M86.32,248.20Q84.12,250.80 86.32,253.40" fill="none" stroke="#c0c2c8" stroke-width="1"/>
<path d="M88.57,242.40Q90.77,245.00 88.57,247.60M93.57,242.40Q91.37,245.00 93.57,247.60" fill="none" stroke="#c0c2c8" stroke-width="1"/>
<path d="M95.82,237.20Q98.02,239.80 95.82,242.40M100.82,237.20Q98.62,239.80 100.82,242.40" fill="none" stroke="#c0c2c8" stroke-width="1"/>
<path d="M103.08,232.80Q105.28,235.40 103.08,238.00M108.08,232.80Q105.88,235.40 108.08,238.00" fill="none" stroke="#c0c2c8" stroke-width="1"/>
<path d="M110.33,228.40Q112.53,231.00 110.33,233.60M115.33,228.40Q113.13,231.00 115.33,233.60" fill="none" stroke="#c0c2c8" stroke-width="1"/>
<path d="M117.59,223.70Q119.79,226.30 117.59,228.90M122.59,223.70Q120.39,226.30 122.59,228.90" fill="none" stroke="#c0c2c8" stroke-width="1"/>
<path d="M124.84,217.40Q127.04,220.00 124.84,222.60M129.84,217.40Q127.64,220.00 129.84,222.60" fill="none" stroke="#c0c2c8" stroke-width="1"/>
<path d="M132.09,211.40Q134.29,214.00 132.09,216.60M137.09,211.40Q134.89,214.00 137.09,216.60" fill="none" stroke="#c0c2c8" stroke-width="1"/>
<path d="M139.35,207.40Q141.55,210.00 139.35,212.60M144.35,207.40Q142.15,210.00 144.35,212.60" fill="none" stroke="#c0c2c8" stroke-width="1"/>
<path d="M146.60,202.40Q148.80,205.00 146.60,207.60M151.60,202.40Q149.40,205.00 151.60,207.60" fill="none" stroke="#c0c2c8" stroke-width="1"/>
<path d="M153.86,196.90Q156.06,199.50 153.86,202.10M158.86,196.90Q156.66,199.50 158.86,202.10" fill="none" stroke="#c0c2c8" stroke-width="1"/>
<path d="M161.11,194.20Q163.31,196.80 161.11,199.40M166.11,194.20Q163.91,196.80 166.11,199.40" fill="none" stroke="#c0c2c8" stroke-width="1"/>
<path d="M168.36,192.40Q170.56,195.00 168.36,197.60M173.36,192.40Q171.16,195.00 173.36,197.60" fill="none" stroke="#c0c2c8" stroke-width="1"/>
<path d="M175.62,190.90Q177.82,193.50 175.62,196.10M180.62,190.90Q178.42,193.50 180.62,196.10" fill="none" stroke="#c0c2c8" stroke-width="1"/>
<path d="M182.87,189.40Q185.07,192.00 182.87,194.60M187.87,189.40Q185.67,192.00 187.87,194.60" fill="none" stroke="#c0c2c8" stroke-width="1"/>
<path d="M190.13,188.40Q192.33,191.00 190.13,193.60M195.13,188.40Q192.93,191.00 195.13,193.60" fill="none" stroke="#c0c2c8" stroke-width="1"/>
<path d="M197.38,187.70Q199.58,190.30 197.38,192.90M202.38,187.70Q200.18,190.30 202.38,192.90" fill="none" stroke="#c0c2c8" stroke-width="1"/>
<path d="M204.63,187.10Q206.83,189.70 204.63,192.30M209.63,187.10Q207.43,189.70 209.63,192.30" fill="none" stroke="#c0c2c8" stroke-width="1"/>
<path d="M211.89,186.70Q214.09,189.30 211.89,191.90M216.89,186.70Q214.69,189.30 216.89,191.90" fill="none" stroke="#c0c2c8" stroke-width="1"/>
<path d="M219.14,186.40Q221.34,189.00 219.14,191.60M224.14,186.40Q221.94,189.00 224.14,191.60" fill="none" stroke="#c0c2c8" stroke-width="1"/>
<path d="M226.40,186.20Q228.60,188.80 226.40,191.40M231.40,186.20Q229.20,188.80 231.40,191.40" fill="none" stroke="#c0c2c8" stroke-width="1"/>
<polyline points="54.80,270.50 62.05,267.40 69.31,263.00 76.56,257.40 83.82,251.80 91.07,246.00 98.32,240.80 105.58,236.40 112.83,232.00 120.09,227.30 127.34,221.00 134.59,214.80 141.85,210.40 149.10,208.10 156.36,206.10 163.61,205.60 170.86,204.90 178.12,204.10 185.37,203.60 192.63,203.20 199.88,202.80 207.13,202.50 214.39,202.30 221.64,202.10 228.90,202.00" fill="none" stroke="#2a3658" stroke-width="1.0"/>
<polygon points="54.80,267.90 57.40,272.50 52.20,272.50" fill="#2a3a68" stroke="#121a30" stroke-width="0.6"/>
<polygon points="62.05,264.80 64.65,269.40 59.45,269.40" fill="#2a3a68" stroke="#121a30" stroke-width="0.6"/>
<polygon points="69.31,260.40 71.91,265.00 66.71,265.00" fill="#2a3a68" stroke="#121a30" stroke-width="0.6"/>
<polygon points="76.56,254.80 79.16,259.40 73.96,259.40" fill="#2a3a68" stroke="#121a30" stroke-width="0.6"/>
<polygon points="83.82,249.20 86.42,253.80 81.22,253.80" fill="#2a3a68" stroke="#121a30" stroke-width="0.6"/>
<polygon points="91.07,243.40 93.67,248.00 88.47,248.00" fill="#2a3a68" stroke="#121a30" stroke-width="0.6"/>
<polygon points="98.32,238.20 100.92,242.80 95.72,242.80" fill="#2a3a68" stroke="#121a30" stroke-width="0.6"/>
<polygon points="105.58,233.80 108.18,238.40 102.98,238.40" fill="#2a3a68" stroke="#121a30" stroke-width="0.6"/>
<polygon points="112.83,229.40 115.43,234.00 110.23,234.00" fill="#2a3a68" stroke="#121a30" stroke-width="0.6"/>
<polygon points="120.09,224.70 122.69,229.30 117.49,229.30" fill="#2a3a68" stroke="#121a30" stroke-width="0.6"/>
<polygon points="127.34,218.40 129.94,223.00 124.74,223.00" fill="#2a3a68" stroke="#121a30" stroke-width="0.6"/>
<polygon points="134.59,212.20 137.19,216.80 131.99,216.80" fill="#2a3a68" stroke="#121a30" stroke-width="0.6"/>
<polygon points="141.85,207.80 144.45,212.40 139.25,212.40" fill="#2a3a68" stroke="#121a30" stroke-width="0.6"/>
<polygon points="149.10,205.50 151.70,210.10 146.50,210.10" fill="#2a3a68" stroke="#121a30" stroke-width="0.6"/>
<polygon points="156.36,203.50 158.96,208.10 153.76,208.10" fill="#2a3a68" stroke="#121a30" stroke-width="0.6"/>
<polygon points="163.61,203.00 166.21,207.60 161.01,207.60" fill="#2a3a68" stroke="#121a30" stroke-width="0.6"/>
<polygon points="170.86,202.30 173.46,206.90 168.26,206.90" fill="#2a3a68" stroke="#121a30" stroke-width="0.6"/>
<polygon points="178.12,201.50 180.72,206.10 175.52,206.10" fill="#2a3a68" stroke="#121a30" stroke-width="0.6"/>
<polygon points="185.37,201.00 187.97,205.60 182.77,205.60" fill="#2a3a68" stroke="#121a30" stroke-width="0.6"/>
<polygon points="192.63,200.60 195.23,205.20 190.03,205.20" fill="#2a3a68" stroke="#121a30" stroke-width="0.6"/>
<polygon points="199.88,200.20 202.48,204.80 197.28,204.80" fill="#2a3a68" stroke="#121a30" stroke-width="0.6"/>
<polygon points="207.13,199.90 209.73,204.50 204.53,204.50" fill="#2a3a68" stroke="#121a30" stroke-width="0.6"/>
<polygon points="214.39,199.70 216.99,204.30 211.79,204.30" fill="#2a3a68" stroke="#121a30" stroke-width="0.6"/>
<polygon points="221.64,199.50 224.24,204.10 219.04,204.10" fill="#2a3a68" stroke="#121a30" stroke-width="0.6"/>
<polygon points="228.90,199.40 231.50,204.00 226.30,204.00" fill="#2a3a68" stroke="#121a30" stroke-width="0.6"/>
<polyline points="54.80,268.40 62.05,262.40 69.31,255.20 76.56,247.70 83.82,240.40 91.07,233.40 98.32,225.10 105.58,219.30 112.83,213.70 120.09,204.00 127.34,201.00 134.59,197.90 141.85,195.40 149.10,193.70 156.36,192.90 163.61,192.90 170.86,193.70 178.12,194.60 185.37,194.80 192.63,194.80 199.88,194.90 207.13,195.00 214.39,195.10 221.64,195.20 228.90,195.30" fill="none" stroke="#a8183c" stroke-width="1.4"/>
<circle cx="54.80" cy="268.40" r="2.4" fill="#a01838" stroke="#5a0c1c" stroke-width="0.6"/>
<circle cx="62.05" cy="262.40" r="2.4" fill="#a01838" stroke="#5a0c1c" stroke-width="0.6"/>
<circle cx="69.31" cy="255.20" r="2.4" fill="#a01838" stroke="#5a0c1c" stroke-width="0.6"/>
<circle cx="76.56" cy="247.70" r="2.4" fill="#a01838" stroke="#5a0c1c" stroke-width="0.6"/>
<circle cx="83.82" cy="240.40" r="2.4" fill="#a01838" stroke="#5a0c1c" stroke-width="0.6"/>
<circle cx="91.07" cy="233.40" r="2.4" fill="#a01838" stroke="#5a0c1c" stroke-width="0.6"/>
<circle cx="98.32" cy="225.10" r="2.4" fill="#a01838" stroke="#5a0c1c" stroke-width="0.6"/>
<circle cx="105.58" cy="219.30" r="2.4" fill="#a01838" stroke="#5a0c1c" stroke-width="0.6"/>
<circle cx="112.83" cy="213.70" r="2.4" fill="#a01838" stroke="#5a0c1c" stroke-width="0.6"/>
<circle cx="120.09" cy="204.00" r="2.4" fill="#a01838" stroke="#5a0c1c" stroke-width="0.6"/>
<circle cx="127.34" cy="201.00" r="2.4" fill="#a01838" stroke="#5a0c1c" stroke-width="0.6"/>
<circle cx="134.59" cy="197.90" r="2.4" fill="#a01838" stroke="#5a0c1c" stroke-width="0.6"/>
<circle cx="141.85" cy="195.40" r="2.4" fill="#a01838" stroke="#5a0c1c" stroke-width="0.6"/>
<circle cx="149.10" cy="193.70" r="2.4" fill="#a01838" stroke="#5a0c1c" stroke-width="0.6"/>
<circle cx="156.36" cy="192.90" r="2.4" fill="#a01838" stroke="#5a0c1c" stroke-width="0.6"/>
<circle cx="163.61" cy="192.90" r="2.4" fill="#a01838" stroke="#5a0c1c" stroke-width="0.6"/>
<circle cx="170.86" cy="193.70" r="2.4" fill="#a01838" stroke="#5a0c1c" stroke-width="0.6"/>
<circle cx="178.12" cy="194.60" r="2.4" fill="#a01838" stroke="#5a0c1c" stroke-width="0.6"/>
<circle cx="185.37" cy="194.80" r="2.4" fill="#a01838" stroke="#5a0c1c" stroke-width="0.6"/>
<circle cx="192.63" cy="194.80" r="2.4" fill="#a01838" stroke="#5a0c1c" stroke-width="0.6"/>
<circle cx="199.88" cy="194.90" r="2.4" fill="#a01838" stroke="#5a0c1c" stroke-width="0.6"/>
<circle cx="207.13" cy="195.00" r="2.4" fill="#a01838" stroke="#5a0c1c" stroke-width="0.6"/>
<circle cx="214.39" cy="195.10" r="2.4" fill="#a01838" stroke="#5a0c1c" stroke-width="0.6"/>
<circle cx="221.64" cy="195.20" r="2.4" fill="#a01838" stroke="#5a0c1c" stroke-width="0.6"/>
<circle cx="228.90" cy="195.30" r="2.4" fill="#a01838" stroke="#5a0c1c" stroke-width="0.6"/>
<line x1="54.8" y1="144.3" x2="54.8" y2="286.5" stroke="#111" stroke-width="1.3"/>
<line x1="54.2" y1="283.5" x2="261" y2="283.5" stroke="#111" stroke-width="1.3"/>
<line x1="51.3" x2="54.8" y1="283.50" y2="283.50" stroke="#111" stroke-width="1.1"/>
<text x="48.4" y="286.2" font-size="8.1" text-anchor="end" font-weight="normal" fill="#333" letter-spacing="0.3" >0</text>
<line x1="51.3" x2="54.8" y1="237.72" y2="237.72" stroke="#111" stroke-width="1.1"/>
<text x="48.4" y="240.42499999999998" font-size="8.1" text-anchor="end" font-weight="normal" fill="#333" letter-spacing="0.3" >250</text>
<line x1="51.3" x2="54.8" y1="191.95" y2="191.95" stroke="#111" stroke-width="1.1"/>
<text x="48.4" y="194.64999999999998" font-size="8.1" text-anchor="end" font-weight="normal" fill="#333" letter-spacing="0.3" >500</text>
<line x1="51.3" x2="54.8" y1="146.17" y2="146.17" stroke="#111" stroke-width="1.1"/>
<text x="48.4" y="148.87499999999997" font-size="8.1" text-anchor="end" font-weight="normal" fill="#333" letter-spacing="0.3" >750</text>
<line x1="54.80" x2="54.80" y1="283.5" y2="286.5" stroke="#111" stroke-width="1.1"/>
<text x="55.099999999999994" y="297.0" font-size="7.9" text-anchor="middle" font-weight="normal" fill="#333" letter-spacing="0.3" >0</text>
<line x1="115.25" x2="115.25" y1="283.5" y2="286.5" stroke="#111" stroke-width="1.1"/>
<text x="115.55" y="297.0" font-size="7.9" text-anchor="middle" font-weight="normal" fill="#333" letter-spacing="0.3" >5</text>
<line x1="175.70" x2="175.70" y1="283.5" y2="286.5" stroke="#111" stroke-width="1.1"/>
<text x="176.0" y="297.0" font-size="7.9" text-anchor="middle" font-weight="normal" fill="#333" letter-spacing="0.3" >10</text>
<line x1="236.15" x2="236.15" y1="283.5" y2="286.5" stroke="#111" stroke-width="1.1"/>
<text x="236.45" y="297.0" font-size="7.9" text-anchor="middle" font-weight="normal" fill="#333" letter-spacing="0.3" >15</text>
<text x="141.3" y="310.6" font-size="8.6" font-weight="normal" fill="#222" textLength="33" lengthAdjust="spacingAndGlyphs" stroke="#222" stroke-width="0.25">Time (min)</text>
<text x="0" y="0" font-size="8.6" font-weight="normal" fill="#222" textLength="109.8" lengthAdjust="spacingAndGlyphs" stroke="#222" stroke-width="0.22" transform="translate(28.2,267.6) rotate(-90)">Mean fluorescence intensity (fibrin)</text>
<line x1="59.2" x2="76" y1="140.0" y2="140.0" stroke="#701020" stroke-width="1.3"/>
<circle cx="67.6" cy="140.0" r="2.5" fill="#8a1030" stroke="#400814" stroke-width="0.8"/>
<text x="79.0" y="143.0" font-size="7.2" font-weight="normal" fill="#2a2a2a" textLength="29.4" lengthAdjust="spacingAndGlyphs" >TNF only</text>
<line x1="59.2" x2="76" y1="151.9" y2="151.9" stroke="#1e2a48" stroke-width="1.2"/>
<polygon points="67.8,148.8 71.2,155.20000000000002 64.4,155.20000000000002" fill="#24345a" stroke="#121a30" stroke-width="0.6"/>
<text x="79.0" y="154.4" font-size="7.2" font-weight="normal" fill="#2a2a2a" textLength="56.6" lengthAdjust="spacingAndGlyphs" >TNF + R6.5 scFv</text>
<line x1="59.2" x2="76" y1="163.6" y2="163.6" stroke="#c8c8c8" stroke-width="1.2"/>
<path d="M65.1,160.9Q67.3,163.6 65.1,166.4M70.1,160.9Q67.9,163.6 70.1,166.4" fill="none" stroke="#bdbdbd" stroke-width="1.1"/>
<text x="79.0" y="166.3" font-size="7.2" font-weight="normal" fill="#2a2a2a" textLength="42.0" lengthAdjust="spacingAndGlyphs" >TNF + shTM</text>
<line x1="59.2" x2="76" y1="175.8" y2="175.8" stroke="#55683a" stroke-width="1.2"/>
<rect x="65.1" y="173.10000000000002" width="5.6" height="5.6" fill="#6ea456" stroke="#142a0c" stroke-width="1.2"/>
<text x="79.0" y="177.2" font-size="7.2" font-weight="normal" fill="#2a2a2a" textLength="57.4" lengthAdjust="spacingAndGlyphs" >TNF + hTM/R6.5</text>
<line x1="341.60" x2="341.60" y1="163.00" y2="184.60" stroke="#111" stroke-width="1.1"/>
<line x1="332.90" x2="350.30" y1="163.00" y2="163.00" stroke="#111" stroke-width="1.2"/>
<rect x="325" y="184.60" width="33.2" height="98.50" fill="#b0002a"/>
<line x1="341.60" x2="341.60" y1="283.1" y2="286.4" stroke="#111" stroke-width="1.1"/>
<line x1="390.80" x2="390.80" y1="194.11" y2="197.56" stroke="#111" stroke-width="1.1"/>
<line x1="382.10" x2="399.50" y1="194.11" y2="194.11" stroke="#111" stroke-width="1.2"/>
<rect x="374.2" y="197.56" width="33.2" height="85.54" fill="#2d4a7e"/>
<line x1="390.80" x2="390.80" y1="283.1" y2="286.4" stroke="#111" stroke-width="1.1"/>
<line x1="439.60" x2="439.60" y1="163.87" y2="186.33" stroke="#111" stroke-width="1.1"/>
<line x1="430.90" x2="448.30" y1="163.87" y2="163.87" stroke="#111" stroke-width="1.2"/>
<rect x="423" y="186.33" width="33.2" height="96.77" fill="#c4c4c8"/>
<line x1="439.60" x2="439.60" y1="283.1" y2="286.4" stroke="#111" stroke-width="1.1"/>
<line x1="488.70" x2="488.70" y1="260.20" y2="262.80" stroke="#111" stroke-width="1.1"/>
<line x1="480.00" x2="497.40" y1="260.20" y2="260.20" stroke="#111" stroke-width="1.2"/>
<rect x="472.1" y="262.80" width="33.2" height="20.30" fill="#6aaf45"/>
<line x1="488.70" x2="488.70" y1="283.1" y2="286.4" stroke="#111" stroke-width="1.1"/>
<line x1="317.9" y1="149.7" x2="317.9" y2="283.8" stroke="#111" stroke-width="1.3"/>
<line x1="314" y1="283.2" x2="512.3" y2="283.2" stroke="#111" stroke-width="1.3"/>
<line x1="314.9" x2="317.9" y1="239.90" y2="239.90" stroke="#111" stroke-width="1.1"/>
<text x="309.8" y="242.30000000000004" font-size="6.6" text-anchor="end" font-weight="normal" fill="#222" letter-spacing="0" >1</text>
<line x1="314.9" x2="317.9" y1="196.70" y2="196.70" stroke="#111" stroke-width="1.1"/>
<text x="309.8" y="199.10000000000002" font-size="6.6" text-anchor="end" font-weight="normal" fill="#222" letter-spacing="0" >2</text>
<line x1="314.9" x2="317.9" y1="153.50" y2="153.50" stroke="#111" stroke-width="1.1"/>
<text x="309.8" y="155.9" font-size="6.6" text-anchor="end" font-weight="normal" fill="#222" letter-spacing="0" >3</text>
<text x="326.4" y="296.8" font-size="7.4" font-weight="normal" fill="#222" textLength="30.9" lengthAdjust="spacingAndGlyphs" >TNF only</text>
<text x="369.3" y="296.8" font-size="7.4" font-weight="normal" fill="#222" textLength="44.2" lengthAdjust="spacingAndGlyphs" >+ R6.5 scFv</text>
<text x="427.1" y="296.8" font-size="7.4" font-weight="normal" fill="#222" textLength="25.6" lengthAdjust="spacingAndGlyphs" >+ shTM</text>
<text x="467.2" y="296.8" font-size="7.4" font-weight="normal" fill="#222" textLength="43.2" lengthAdjust="spacingAndGlyphs" >+ hTM/R6.5</text>
<circle cx="488.5" cy="248.6" r="1.05" fill="#111"/>
<text x="370.9" y="144.4" font-size="9.6" font-weight="bold" fill="#111" textLength="88.3" lengthAdjust="spacingAndGlyphs" >AUC at 15 minutes</text>
<text x="0" y="0" font-size="6.8" font-weight="normal" fill="#222" textLength="25.8" lengthAdjust="spacingAndGlyphs" stroke="#222" stroke-width="0.2" transform="translate(299.3,230.6) rotate(-90)">AUC x 10</text>
<text x="0" y="0" font-size="4.6" font-weight="normal" fill="#222" textLength="2.5" lengthAdjust="spacingAndGlyphs" transform="translate(296.2,204.3) rotate(-90)">3</text>
</svg>
</body></html>
